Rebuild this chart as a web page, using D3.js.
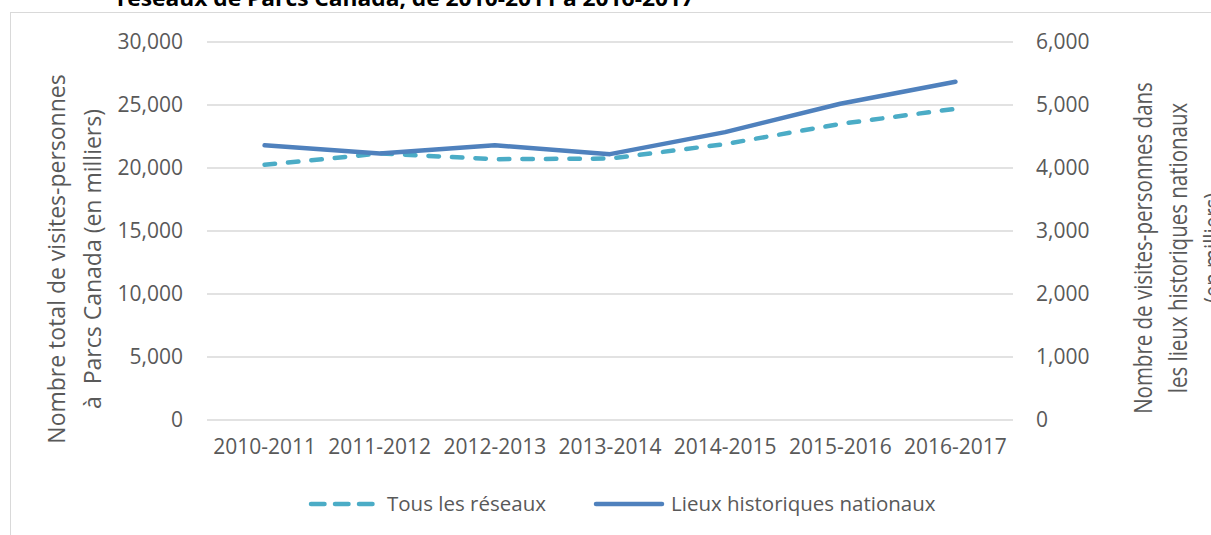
<!DOCTYPE html>
<meta charset="utf-8">
<script src="https://d3js.org/d3.v7.min.js"></script>
<style>
  body { margin: 0; background: #fff; }
  text { font-family: "Open Sans", sans-serif; fill: #595959; }
</style>
<div id="chart"></div>
<script>
    // data
    var years = ["2010-2011", "2011-2012", "2012-2013", "2013-2014", "2014-2015", "2015-2016", "2016-2017"];
    var tousReseaux = [20250, 21150, 20700, 20750, 21900, 23500, 24700];      // left axis
    var lieuxHistoriques = [4360, 4230, 4360, 4220, 4570, 5020, 5370];         // right axis
    var leftTicks = [0, 5000, 10000, 15000, 20000, 25000, 30000];
    var rightTicks = [0, 1000, 2000, 3000, 4000, 5000, 6000];

    var W = 1211, H = 535;
    var margin = {top: 42, right: 198, bottom: 115, left: 207},
        width = W - margin.left - margin.right,
        height = H - margin.top - margin.bottom;

    var svg0 = d3.select("#chart")
      .append("svg")
        .attr("width", W)
        .attr("height", H);

    // chart area border (runs past the frame)
    svg0.append("rect")
        .attr("x", 10.5).attr("y", 12.5)
        .attr("width", W + 20).attr("height", H + 20)
        .attr("fill", "none")
        .attr("stroke", "#d9d9d9");

    // title, second line only (first line is cut off)
    svg0.append("text")
        .attr("x", 117).attr("y", 6)
        .attr("textLength", 577)
        .attr("lengthAdjust", "spacingAndGlyphs")
        .style("font-weight", "bold")
        .style("font-size", "21px")
        .style("fill", "#000")
        .text("réseaux de Parcs Canada, de 2010-2011 à 2016-2017");

    var svg = svg0.append("g")
        .attr("transform", "translate(" + margin.left + "," + margin.top + ")");

    var x = d3.scaleBand().domain(years).range([0, width]);
    var yL = d3.scaleLinear().domain([0, 30000]).range([height, 0]);
    var yR = d3.scaleLinear().domain([0, 6000]).range([height, 0]);

    // gridlines
    svg.selectAll(".grid")
      .data(leftTicks)
      .enter().append("line")
        .attr("x1", 0).attr("x2", width)
        .attr("y1", d => yL(d)).attr("y2", d => yL(d))
        .attr("stroke", "#d9d9d9")
        .attr("stroke-width", 1.3);

    // left axis
    var fmt = d3.format(",");
    var gL = svg.append("g")
        .call(d3.axisLeft(yL).tickValues(leftTicks).tickFormat(fmt).tickSize(0).tickPadding(24));
    gL.select(".domain").remove();
    gL.selectAll("text").style("font-size", "21px").style("fill", "#595959");

    // right axis
    var gR = svg.append("g")
        .attr("transform", "translate(" + width + ",0)")
        .call(d3.axisRight(yR).tickValues(rightTicks).tickFormat(fmt).tickSize(0).tickPadding(23));
    gR.select(".domain").remove();
    gR.selectAll("text").style("font-size", "21px").style("fill", "#595959");

    // x axis
    var gX = svg.append("g")
        .attr("transform", "translate(0," + height + ")")
        .call(d3.axisBottom(x).tickSize(0).tickPadding(19));
    gX.select(".domain").remove();
    gX.selectAll("text").style("font-size", "21px").style("fill", "#595959");

    var cx = d => x(d) + x.bandwidth() / 2;

    // lines
    var lineL = d3.line().x((d, i) => cx(years[i])).y(d => yL(d));
    var lineR = d3.line().x((d, i) => cx(years[i])).y(d => yR(d));

    svg.append("path")
        .datum(tousReseaux)
        .attr("d", lineL)
        .attr("fill", "none")
        .attr("stroke", "#4bacc6")
        .attr("stroke-width", 4.5)
        .attr("stroke-linecap", "round")
        .attr("stroke-dasharray", "10.5,13");

    svg.append("path")
        .datum(lieuxHistoriques)
        .attr("d", lineR)
        .attr("fill", "none")
        .attr("stroke", "#4f81bd")
        .attr("stroke-width", 4.5)
        .attr("stroke-linecap", "round")
        .attr("stroke-linejoin", "round");

    // axis titles (rotated, x is the baseline)
    var leftTitle = ["Nombre total de visites-personnes", "à  Parcs Canada (en milliers)"];
    leftTitle.forEach(function(t, i) {
      svg0.append("text")
          .attr("transform", "translate(" + (65 + i * 36) + ",259) rotate(-90)")
          .attr("text-anchor", "middle")
          .style("font-size", "23px")
          .style("white-space", "pre")
          .text(t);
    });
    var rightTitle = ["Nombre de visites-personnes dans", "les lieux historiques nationaux", "(en milliers)"];
    rightTitle.forEach(function(t, i) {
      svg0.append("text")
          .attr("transform", "translate(" + (1152 + i * 35) + ",248) rotate(-90) scale(1,1.2)")
          .attr("text-anchor", "middle")
          .style("font-size", "20.5px")
          .text(t);
    });

    // legend
    var legend = [
      {name: "Tous les réseaux", color: "#4bacc6", dash: "13.5,10.5", x: 311, gap: 76},
      {name: "Lieux historiques nationaux", color: "#4f81bd", dash: null, x: 596, gap: 75}
    ];
    legend.forEach(function(l) {
      svg0.append("line")
          .attr("x1", l.x).attr("x2", l.x + 66)
          .attr("y1", 504).attr("y2", 504)
          .attr("stroke", l.color)
          .attr("stroke-width", 4.5)
          .attr("stroke-linecap", "round")
          .attr("stroke-dasharray", l.dash);
      svg0.append("text")
          .attr("x", l.x + l.gap).attr("y", 504)
          .attr("dy", "0.35em")
          .style("font-size", "20.5px")
          .text(l.name);
    });
</script>
